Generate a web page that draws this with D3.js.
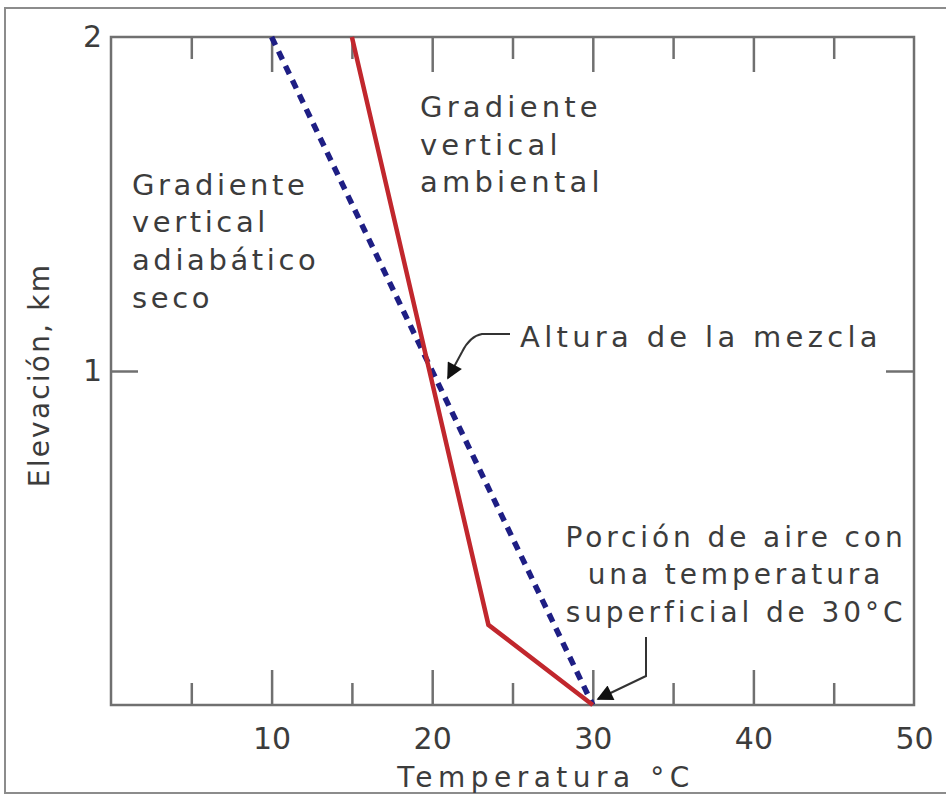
<!DOCTYPE html>
<html><head><meta charset="utf-8">
<script src="https://cdn.jsdelivr.net/npm/d3@7"></script>
<style>
html,body{margin:0;padding:0;background:#fff;}
svg text{font-family:"DejaVu Sans",Verdana,sans-serif;fill:#3c3c3c;}
</style></head>
<body><svg id="c" width="946" height="796"></svg>
<script>
// ---- data ----
const xTicksMajor = [10, 20, 30, 40, 50];
const xTicksMinor = [5, 15, 25, 35, 45];
const yTicks = [1, 2];
const ambientTemp = [15, 23.5, 30];      // Gradiente vertical ambiental
const ambientElev = [2, 0.24, 0];
const adiabTemp = [10, 30];              // Gradiente vertical adiabático seco
const adiabElev = [2, 0];
const labelAmbiental = ["Gradiente", "vertical", "ambiental"];
const labelAdiabatico = ["Gradiente", "vertical", "adiabático", "seco"];
const labelMezcla = "Altura de la mezcla";
const labelPorcion = ["Porción de aire con", "una temperatura", "superficial de 30°C"];
const xTitle = "Temperatura °C";
const yTitle = "Elevación, km";

const svg = d3.select("#c");
const L = 111, R = 914, T = 37, B = 705;
const x = d3.scaleLinear().domain([0, 50]).range([L, R]);
const y = d3.scaleLinear().domain([0, 2]).range([B, T]);

// outer frame
svg.append("rect").attr("x", 5).attr("y", 8).attr("width", 960).attr("height", 785)
  .attr("fill", "none").attr("stroke", "#8c8c8c").attr("stroke-width", 2);

// plot frame
svg.append("rect").attr("x", L).attr("y", T).attr("width", R - L).attr("height", B - T)
  .attr("fill", "none").attr("stroke", "#707070").attr("stroke-width", 2.5);

const axisCol = "#707070";
const tickTextCol = "#444";
// bottom axis ticks (inward)
const bottom = svg.append("g").attr("transform", `translate(0,${B})`)
  .call(d3.axisBottom(x).tickValues(xTicksMajor).tickSizeInner(-35).tickSizeOuter(0).tickPadding(44).tickFormat(d3.format("d")))
  .call(g => g.select(".domain").remove());
bottom.selectAll(".tick line").attr("stroke", axisCol).attr("stroke-width", 2.5);
bottom.selectAll(".tick text").attr("font-size", 30).attr("font-family", "DejaVu Sans").attr("fill", tickTextCol).attr("dy", "0");
bottom.selectAll(".tick").filter(d => d === 50).select("line").remove();
svg.append("g").attr("transform", `translate(0,${B})`)
  .call(d3.axisBottom(x).tickValues(xTicksMinor).tickSizeInner(-22).tickSizeOuter(0).tickFormat(""))
  .call(g => g.select(".domain").remove())
  .selectAll(".tick line").attr("stroke", axisCol).attr("stroke-width", 2.5);

// top axis ticks (inward)
const top1 = svg.append("g").attr("transform", `translate(0,${T})`)
  .call(d3.axisTop(x).tickValues(xTicksMajor.filter(v => v < 50)).tickSizeInner(-35).tickSizeOuter(0).tickFormat(""))
  .call(g => g.select(".domain").remove());
top1.selectAll(".tick line").attr("stroke", axisCol).attr("stroke-width", 2.5);
svg.append("g").attr("transform", `translate(0,${T})`)
  .call(d3.axisTop(x).tickValues(xTicksMinor).tickSizeInner(-22).tickSizeOuter(0).tickFormat(""))
  .call(g => g.select(".domain").remove())
  .selectAll(".tick line").attr("stroke", axisCol).attr("stroke-width", 2.5);

// left axis
const left = svg.append("g").attr("transform", `translate(${L},0)`)
  .call(d3.axisLeft(y).tickValues(yTicks).tickSizeInner(-27).tickSizeOuter(0).tickFormat(d3.format("d")))
  .call(g => g.select(".domain").remove());
left.selectAll(".tick line").attr("stroke", axisCol).attr("stroke-width", 2.5);
left.selectAll(".tick").filter(d => d === 2).select("line").remove();
left.selectAll(".tick text").attr("font-size", 30).attr("font-family", "DejaVu Sans").attr("fill", tickTextCol).attr("x", -9);
// right axis
const right = svg.append("g").attr("transform", `translate(${R},0)`)
  .call(d3.axisRight(y).tickValues([1]).tickSizeInner(-28).tickSizeOuter(0).tickFormat(""))
  .call(g => g.select(".domain").remove());
right.selectAll(".tick line").attr("stroke", axisCol).attr("stroke-width", 2.5);

// lines
const line = d3.line().x(d => x(d[0])).y(d => y(d[1]));
svg.append("path").datum(adiabTemp.map((t, i) => [t, adiabElev[i]]))
  .attr("d", line).attr("fill", "none").attr("stroke", "#1e1e84")
  .attr("stroke-width", 5.5).attr("stroke-dasharray", "9,7");
svg.append("path").datum(ambientTemp.map((t, i) => [t, ambientElev[i]]))
  .attr("d", line).attr("fill", "none").attr("stroke", "#c1272d")
  .attr("stroke-width", 4.5).attr("stroke-linejoin", "miter");

// annotation text
function lines(arr, xx, ys, anchor, size, ls) {
  arr.forEach((t, i) => {
    svg.append("text").attr("x", xx).attr("y", ys[i]).attr("text-anchor", anchor)
      .attr("font-size", size).attr("letter-spacing", ls).text(t);
  });
}
lines(labelAmbiental, 420, [117, 155, 192], "start", 29, 4.2);
lines(labelAdiabatico, 132, [195, 232, 270, 308], "start", 29, 3.6);
lines([labelMezcla], 520, [347], "start", 29, 4.3);
lines(labelPorcion, 736, [547, 584, 622], "middle", 28, 3.9);

// axis titles
svg.append("text").attr("x", 546).attr("y", 787).attr("text-anchor", "middle")
  .attr("font-size", 28).attr("letter-spacing", 5.5).text(xTitle);
svg.append("text").attr("transform", "translate(49,375) rotate(-90)").attr("text-anchor", "middle")
  .attr("font-size", 28).attr("letter-spacing", 2.2).text(yTitle);

// arrows
svg.append("defs").append("marker").attr("id", "ah").attr("viewBox", "0 0 10 10")
  .attr("refX", 9).attr("refY", 5).attr("markerWidth", 20).attr("markerHeight", 16)
  .attr("markerUnits", "userSpaceOnUse").attr("orient", "auto")
  .append("path").attr("d", "M0,0 L10,5 L0,10 Z").attr("fill", "#111");
svg.append("path").attr("d", "M510,334 L482,334 Q470,336 462,352 L448,378")
  .attr("fill", "none").attr("stroke", "#333").attr("stroke-width", 2).attr("marker-end", "url(#ah)");
svg.append("path").attr("d", "M646,637 L646,676 L598,699")
  .attr("fill", "none").attr("stroke", "#333").attr("stroke-width", 2).attr("marker-end", "url(#ah)");
</script></body></html>
